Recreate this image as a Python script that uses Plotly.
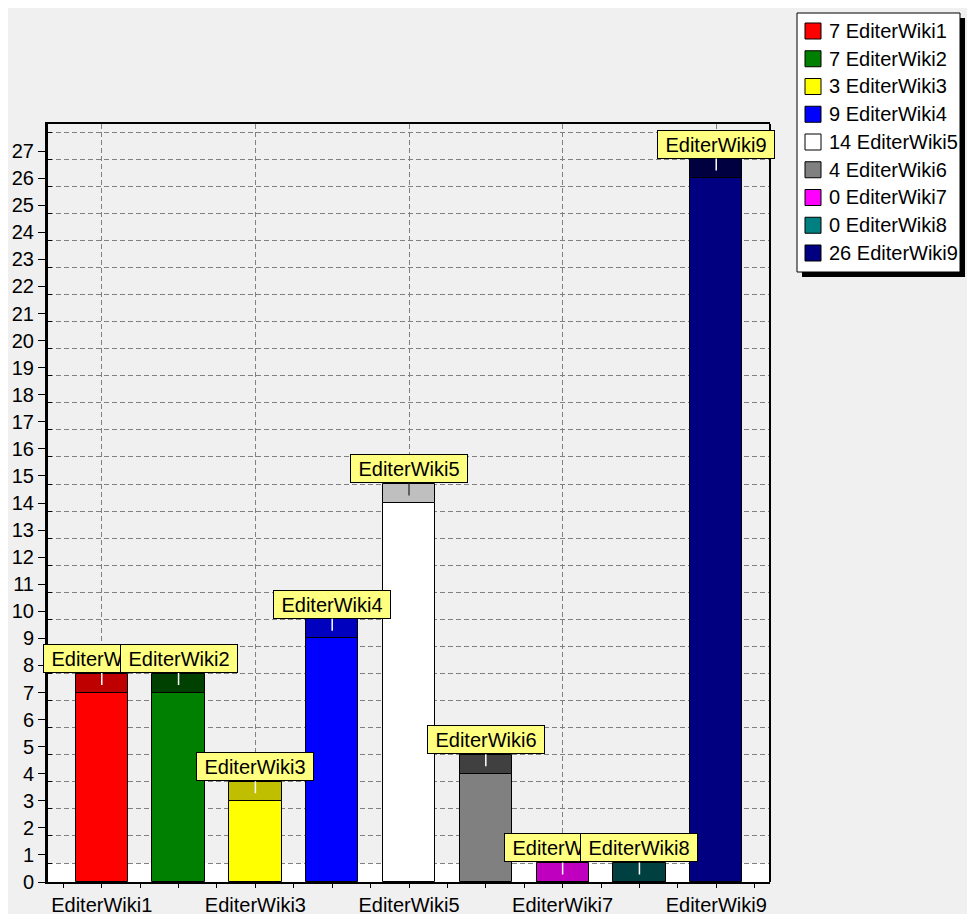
import plotly.graph_objects as go

# ── Data ─────────────────────────────────────────────────────────────────────
names = ["EditerWiki1", "EditerWiki2", "EditerWiki3", "EditerWiki4", "EditerWiki5",
         "EditerWiki6", "EditerWiki7", "EditerWiki8", "EditerWiki9"]
values = [7, 7, 3, 9, 14, 4, 0, 0, 26]
colors = ["#FF0000", "#008000", "#FFFF00", "#0000FF", "#FFFFFF",
          "#808080", "#FF00FF", "#008080", "#000080"]
positions = list(range(1, len(names) + 1))
y_ticks = list(range(0, 28))

# ── Style ────────────────────────────────────────────────────────────────────
DEPTH = 0.7          # 3D depth of the bars, in value units
Y_MAX = 28
BAR_W = 0.68
FONT = "Liberation Sans, Arial, sans-serif"
FS = 20
BG = "#F0F0F0"

PAGE_OFF = 8         # body margin of the html page
FIG_W, FIG_H = 967, 906
M_L, M_R, M_T, M_B = 40, 205, 116, 32
PLOT_W = FIG_W - M_L - M_R
PLOT_H = FIG_H - M_T - M_B


def darker(hex_color, amount=64):
    h = hex_color.lstrip("#")
    r, g, b = (max(int(h[i:i + 2], 16) - amount, 0) for i in (0, 2, 4))
    return f"#{r:02X}{g:02X}{b:02X}"


def is_light(hex_color):
    h = hex_color.lstrip("#")
    return all(int(h[i:i + 2], 16) > 150 for i in (0, 2, 4))


def xp(px):
    return (px - PAGE_OFF - M_L) / PLOT_W


def yp(py):
    return (FIG_H - M_B - (py - PAGE_OFF)) / PLOT_H


tops = [darker(c) for c in colors]

fig = go.Figure()

# front faces
fig.add_trace(go.Bar(
    x=positions, y=values, width=BAR_W,
    marker=dict(color=colors, line=dict(color="black", width=1)),
    showlegend=False, hoverinfo="skip",
))
# top faces (depth seen from above)
fig.add_trace(go.Bar(
    x=positions, y=[DEPTH] * len(values), base=values, width=BAR_W,
    marker=dict(color=tops, line=dict(color="black", width=1)),
    showlegend=False, hoverinfo="skip",
))
# dummy trace so the back-wall axis gets drawn
fig.add_trace(go.Scatter(x=[None], y=[None], yaxis="y2", showlegend=False, hoverinfo="skip"))

# floor
fig.add_shape(type="rect", xref="paper", yref="y", x0=0, x1=1, y0=0, y1=DEPTH,
              fillcolor="white", line=dict(width=0), layer="below")
# right wall edge
fig.add_shape(type="line", xref="paper", yref="paper", x0=1, x1=1, y0=0, y1=1,
              line=dict(color="black", width=2))

# value marks
for p, name, v, top in zip(positions, names, values, tops):
    fig.add_annotation(
        x=p, y=v + DEPTH * 0.4, text=name,
        showarrow=True, arrowhead=0, arrowwidth=1.5,
        arrowcolor="#404040" if is_light(top) else "white",
        ax=0, ay=-12, yanchor="bottom",
        bgcolor="#FFFF80", bordercolor="black", borderwidth=1, borderpad=2,
        width=112, height=23,
        font=dict(family=FONT, size=FS, color="black"),
    )

# legend (drawn by hand, TeeChart style)
LG_X0, LG_X1, LG_Y0, LG_Y1 = 797, 960, 13, 272
fig.add_shape(type="rect", xref="paper", yref="paper",
              x0=xp(LG_X0 + 5), x1=xp(LG_X1 + 5), y0=yp(LG_Y1 + 5), y1=yp(LG_Y0 + 5),
              fillcolor="black", line=dict(width=0))
fig.add_shape(type="rect", xref="paper", yref="paper",
              x0=xp(LG_X0), x1=xp(LG_X1), y0=yp(LG_Y1), y1=yp(LG_Y0),
              fillcolor="white", line=dict(color="black", width=1))
for i, (name, v, c) in enumerate(zip(names, values, colors)):
    cy = 31 + i * 27.75
    fig.add_shape(type="rect", xref="paper", yref="paper",
                  x0=xp(805), x1=xp(821), y0=yp(cy + 8), y1=yp(cy - 8),
                  fillcolor=c, line=dict(color="black", width=1))
    fig.add_annotation(x=xp(827), y=yp(cy), xref="paper", yref="paper",
                       text=f"{v} {name}", showarrow=False,
                       xanchor="left", yanchor="middle",
                       font=dict(family=FONT, size=FS, color="black"))

fig.update_layout(
    width=FIG_W, height=FIG_H,
    margin=dict(l=M_L, r=M_R, t=M_T, b=M_B, autoexpand=False),
    paper_bgcolor=BG, plot_bgcolor=BG,
    barmode="overlay", bargap=0,
    font=dict(family=FONT, size=FS, color="black"),
    showlegend=False,
    xaxis=dict(
        range=[0.3, len(names) + 0.7], automargin=False,
        tickmode="array", tickvals=positions[::2], ticktext=names[::2],
        ticks="outside", ticklen=4, tickcolor="black",
        showline=True, linecolor="black", linewidth=2, mirror=True,
        showgrid=True, gridcolor="#808080", gridwidth=1, griddash="5px,3px",
        zeroline=False,
        minor=dict(tickmode="linear", tick0=0.5, dtick=0.5, ticks="outside",
                   ticklen=4, tickcolor="black", showgrid=False),
    ),
    yaxis=dict(
        range=[0, Y_MAX], automargin=False,
        tickmode="array", tickvals=y_ticks,
        ticks="outside", ticklen=7, tickcolor="black",
        showline=True, linecolor="black", linewidth=3,
        showgrid=False, zeroline=False,
    ),
    yaxis2=dict(
        overlaying="y", side="left", automargin=False,
        range=[-DEPTH, Y_MAX - DEPTH],
        tickmode="array", tickvals=y_ticks,
        ticks="inside", ticklen=4, tickcolor="black",
        showticklabels=False, showline=False,
        showgrid=True, gridcolor="#808080", gridwidth=1, griddash="5px,3px",
        zeroline=False,
    ),
)

fig.write_html("out.html")
